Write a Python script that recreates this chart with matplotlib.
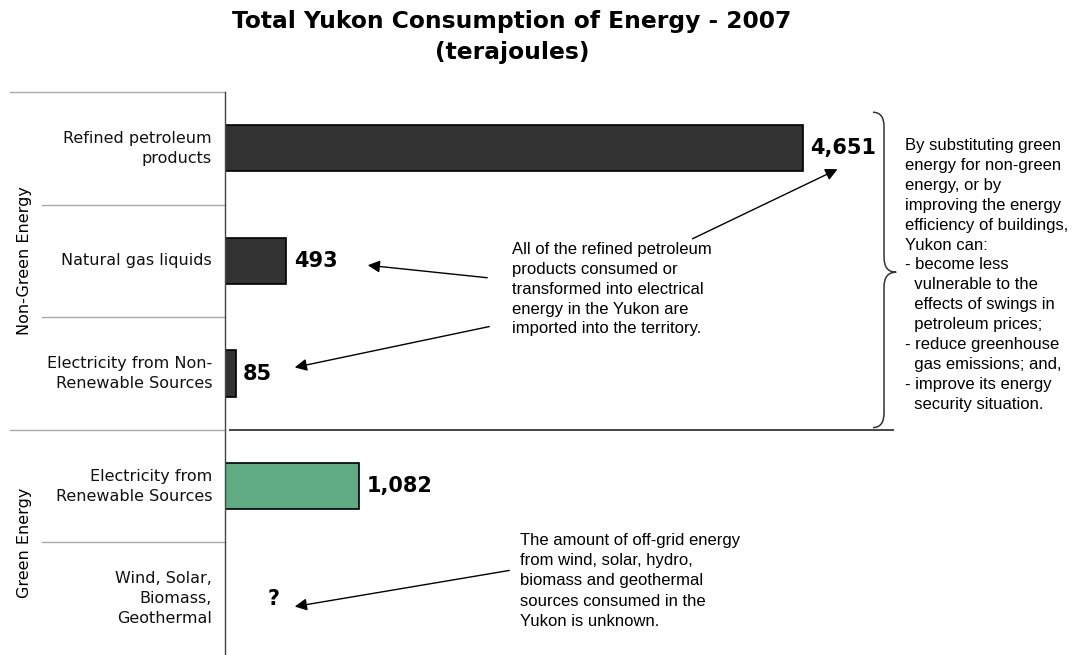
import matplotlib
matplotlib.use("Agg")
import matplotlib.pyplot as plt
from matplotlib.path import Path
from matplotlib.patches import PathPatch
from matplotlib.transforms import blended_transform_factory

# --- Data ---
categories = [
    "Refined petroleum\nproducts",
    "Natural gas liquids",
    "Electricity from Non-\nRenewable Sources",
    "Electricity from\nRenewable Sources",
    "Wind, Solar,\nBiomass,\nGeothermal",
]
values = [4651, 493, 85, 1082, None]
value_labels = ["4,651", "493", "85", "1,082", "?"]
bar_colors = ["#333333", "#333333", "#333333", "#5fac84", None]
groups = ["Non-Green Energy", "Green Energy"]
group_rows = [(0, 2), (3, 4)]

title = "Total Yukon Consumption of Energy - 2007\n(terajoules)"
note_import = ("All of the refined petroleum\nproducts consumed or\n"
               "transformed into electrical\nenergy in the Yukon are\n"
               "imported into the territory.")
note_offgrid = ("The amount of off-grid energy\nfrom wind, solar, hydro,\n"
                "biomass and geothermal\nsources consumed in the\n"
                "Yukon is unknown.")
note_side = ("By substituting green\nenergy for non-green\nenergy, or by\n"
             "improving the energy\nefficiency of buildings,\nYukon can:\n"
             "- become less\n  vulnerable to the\n  effects of swings in\n"
             "  petroleum prices;\n- reduce greenhouse\n  gas emissions; and,\n"
             "- improve its energy\n  security situation.")

W, H = 1076, 655
fig = plt.figure(figsize=(W / 100, H / 100), dpi=100)
ax = fig.add_axes([225 / W, 0, 1 - 225 / W, (655 - 92) / H])

rows = list(range(len(categories)))
for r, v, c in zip(rows, values, bar_colors):
    if v is not None:
        ax.barh(r, v, height=0.41, color=c, edgecolor="black", linewidth=1.2)

ax.set_xlim(0, (W - 225) / 0.1243)
ax.set_ylim(len(categories) - 0.5, -0.5)
for s in ["top", "right", "bottom"]:
    ax.spines[s].set_visible(False)
ax.spines["left"].set_color("#444444")
ax.spines["left"].set_linewidth(1.0)
ax.set_xticks([])
ax.set_yticks([])

# value labels
for r, v, lab in zip(rows, values, value_labels):
    x = v + 60 if v is not None else 340
    ax.text(x, r, lab, ha="left", va="center", fontsize=15,
            fontweight="bold", family="DejaVu Sans")

# category labels
trans = blended_transform_factory(fig.transFigure, ax.transData)
for r, cat in zip(rows, categories):
    fig.text(212 / W, 0, cat, transform=trans, ha="right", va="center",
             fontsize=11.5, family="DejaVu Sans", color="#111111",
             linespacing=1.42).set_y(r)

# separators in label area
for y, x0 in [(-0.5, 10), (0.5, 42), (1.5, 42), (2.5, 10), (3.5, 42)]:
    ax.plot([x0 / W, 225 / W], [y, y], transform=trans, color="#aaaaaa",
            linewidth=1.0, clip_on=False)
ax.plot([230 / W, 893 / W], [2.5, 2.5], transform=trans, color="#444444",
        linewidth=1.4, clip_on=False)

# group labels
for g, (a, b) in zip(groups, group_rows):
    fig.text(25 / W, 0, g, transform=trans, rotation=90, ha="center",
             va="center", fontsize=11.5, family="DejaVu Sans").set_y((a + b) / 2)

# title
fig.text(512 / W, 1 - 37 / H, title, ha="center", va="center", fontsize=16.8,
         fontweight="bold", family="DejaVu Sans", linespacing=1.4)

# annotations
arrow = dict(arrowstyle="-|>", color="black", lw=1.0, mutation_scale=18)
ax.text(2309, 0.83, note_import, ha="left", va="top", fontsize=12,
        family="Liberation Sans", linespacing=1.41)
ax.annotate("", xy=(4948, 0.175), xytext=(3741, 0.814), arrowprops=arrow)
ax.annotate("", xy=(1126, 1.036), xytext=(2132, 1.152), arrowprops=arrow)
ax.annotate("", xy=(539, 1.951), xytext=(2148, 1.578), arrowprops=arrow)

ax.text(2373, 3.42, note_offgrid, ha="left", va="top", fontsize=12,
        family="Liberation Sans", linespacing=1.42)
ax.annotate("", xy=(539, 4.074), xytext=(2309, 3.745), arrowprops=arrow)

# brace
xe, xv, xt = 5213, 5302, 5400
top, bot, mid, d = -0.32, 2.48, 1.10, 0.13
verts = [(xe, top), (xv, top), (xv, top + d), (xv, mid - d),
         (xv, mid), (xt, mid), (xv, mid), (xv, mid + d),
         (xv, bot - d), (xv, bot), (xe, bot)]
codes = [Path.MOVETO, Path.CURVE3, Path.CURVE3, Path.LINETO,
         Path.CURVE3, Path.CURVE3, Path.CURVE3, Path.CURVE3,
         Path.LINETO, Path.CURVE3, Path.CURVE3]
ax.add_patch(PathPatch(Path(verts, codes), facecolor="none",
                       edgecolor="#333333", linewidth=1.1, clip_on=False))

ax.text(5471, -0.095, note_side, ha="left", va="top", fontsize=12,
        family="Liberation Sans", linespacing=1.415)

fig.savefig("out.png", dpi=100, facecolor="white")
